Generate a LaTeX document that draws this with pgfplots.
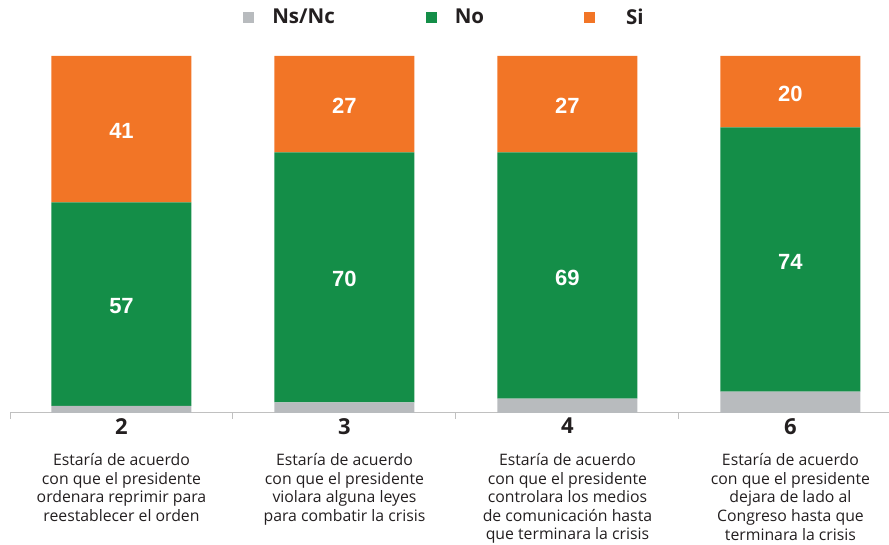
\documentclass[border=0pt]{standalone}
\usepackage{pgfplots}
\pgfplotsset{compat=1.18}
\usepackage{fontspec}
\setmainfont{Open Sans}
\newfontfamily\numfont{Liberation Sans}
\definecolor{cgray}{HTML}{B8BBBE}
\definecolor{cgreen}{HTML}{148E48}
\definecolor{corange}{HTML}{F27526}
\definecolor{ctext}{HTML}{231F20}
\definecolor{caxis}{HTML}{C0C0C0}
\begin{document}
\begin{tikzpicture}[x=1pt,y=1pt]
\path[use as bounding box] (0,0) rectangle (889,545);
\begin{axis}[
  at={(10pt,132pt)}, anchor=south west,
  scale only axis, width=879pt, height=357pt,
  ybar stacked, bar width=140pt,
  xmin=-0.5, xmax=3.442, ymin=0, ymax=100,
  axis y line=none, axis x line*=bottom,
  x axis line style={caxis, line width=1pt, -},
  xtick={0,1,2,3}, major tick length=0pt,
  minor xtick={-0.5,0.5,1.5,2.5}, minor tick length=6pt,
  minor tick style={caxis, line width=1pt}, tick align=outside,
  xticklabels={
    {{\bfseries\fontsize{22}{22}\selectfont 2}\\[13pt]Estaría de acuerdo\\con que el presidente\\ordenara reprimir para\\reestablecer el orden},
    {{\bfseries\fontsize{22}{22}\selectfont 3}\\[13pt]Estaría de acuerdo\\con que el presidente\\violara alguna leyes\\para combatir la crisis},
    {{\bfseries\fontsize{22}{22}\selectfont 4}\\[13pt]Estaría de acuerdo\\con que el presidente\\controlara los medios\\de comunicación hasta\\que terminara la crisis},
    {{\bfseries\fontsize{22}{22}\selectfont 6}\\[13pt]Estaría de acuerdo\\con que el presidente\\dejara de lado al\\Congreso hasta que\\terminara la crisis}
  },
  xticklabel style={align=center, font=\fontsize{15.8}{18.6}\selectfont, text=ctext, anchor=north, inner sep=0pt, yshift=-5pt},
  legend columns=3,
  legend style={at={(0.4943,1.109)}, anchor=center, draw=none,
    font=\fontsize{20.5}{24}\selectfont\bfseries, text=ctext,
    /tikz/column 1/.style={column sep=16pt},
    /tikz/column 2/.style={column sep=89pt},
    /tikz/column 3/.style={column sep=16pt},
    /tikz/column 4/.style={column sep=98pt},
    /tikz/column 5/.style={column sep=29pt}},
  legend image code/.code={\fill[#1] (0pt,-5.5pt) rectangle (11pt,5.5pt);},
]
\addplot[fill=cgray, draw=none] coordinates {(0,2) (1,3) (2,4) (3,6)};
\addlegendentry{Ns/Nc}
\addplot[fill=cgreen, draw=none] coordinates {(0,57) (1,70) (2,69) (3,74)};
\addlegendentry{No}
\addplot[fill=corange, draw=none] coordinates {(0,41) (1,27) (2,27) (3,20)};
\addlegendentry{Si}
\end{axis}
\begin{axis}[
  at={(10pt,132pt)}, anchor=south west,
  scale only axis, width=879pt, height=357pt,
  xmin=-0.5, xmax=3.442, ymin=0, ymax=100,
  hide axis,
  every node near coord/.append style={anchor=center, yshift=-2pt, text=white, font=\numfont\bfseries\fontsize{22}{22}\selectfont},
]
\addplot[draw=none, mark=none, nodes near coords, point meta=explicit symbolic]
  table[meta=label] {
x y label
0 30.5 57
0 79.5 41
1 38 70
1 86.5 27
2 38.5 69
2 86.5 27
3 43 74
3 90 20
};
\end{axis}
\end{tikzpicture}
\end{document}
